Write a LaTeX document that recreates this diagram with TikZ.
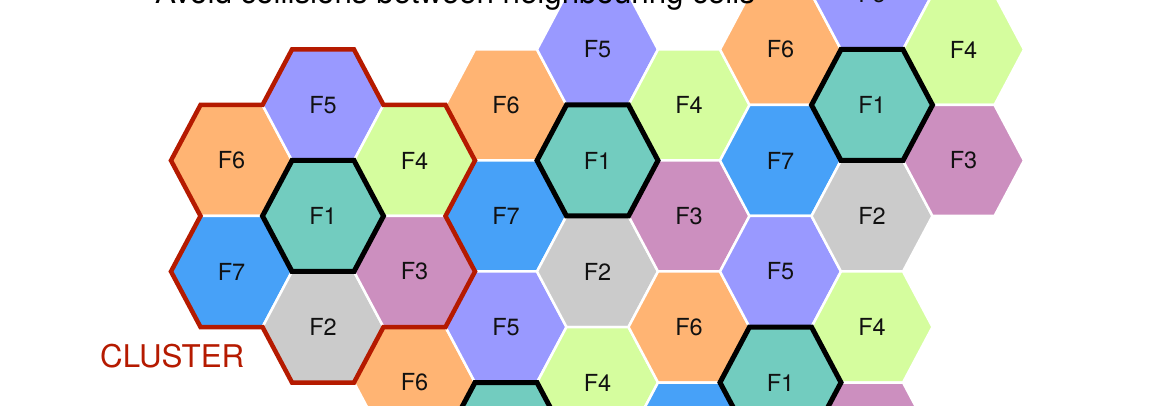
\documentclass[tikz,border=0pt]{standalone}
\usepackage{fontspec}
\setmainfont{TeX Gyre Heros}
\usepackage{tikz}
\definecolor{ink}{HTML}{111111}
\definecolor{clred}{HTML}{B51A00}
\definecolor{f1}{HTML}{72CCBF}
\definecolor{f2}{HTML}{CBCBCB}
\definecolor{f3}{HTML}{CC8FBF}
\definecolor{f4}{HTML}{D5FD9E}
\definecolor{f5}{HTML}{9999FF}
\definecolor{f6}{HTML}{FFB473}
\definecolor{f7}{HTML}{47A1F8}
\tikzset{
  cell/.style={draw=white, line width=2.5pt, line join=miter},
  lbl/.style={font=\fontsize{23.5}{28}\selectfont, text=ink, inner sep=0pt},
  seed/.style={draw=black, line width=5pt, line join=miter},
  clus/.style={draw=clred, line width=4.5pt, line join=miter},
  ttl/.style={font=\fontsize{31.3}{37}\selectfont, text=black, inner sep=0pt},
}
\newcommand{\hexpath}[1]{(#1) +(-60.5,0) -- +(-31,-55.5) -- +(31,-55.5) -- +(60.5,0) -- +(31,55.5) -- +(-31,55.5) -- cycle}

\begin{document}
\begin{tikzpicture}[x=1pt, y=-1pt]
    \clip (0,0) rectangle (1152,406);
    % cells: column / half-row / frequency
    \foreach \c/\r/\f in {0/3/6, 0/5/7,
        1/2/5, 1/4/1, 1/6/2,
        2/3/4, 2/5/3, 2/7/6,
        3/2/6, 3/4/7, 3/6/5, 3/8/1,
        4/1/5, 4/3/1, 4/5/2, 4/7/4,
        5/2/4, 5/4/3, 5/6/6, 5/8/7,
        6/1/6, 6/3/7, 6/5/5, 6/7/1,
        7/0/5, 7/2/1, 7/4/2, 7/6/4, 7/8/3,
        8/1/4, 8/3/3} {
      \coordinate (p\c\r) at ({231.5+91.5*\c},{216+55.5*(\r-4)});
      \filldraw[cell, fill=f\f] \hexpath{p\c\r};
      \node[lbl] (n\c\r) at (p\c\r) {F\f};
    }
    \foreach \p in {p14,p43,p72,p67,p38} \draw[seed] \hexpath{\p};
    % cluster outline
    \draw[clus] (p14) ++(-31,-166.5) -- ++(62,0) -- ++(29.5,55.5) -- ++(62,0)
      -- ++(29.5,55.5) -- ++(-29.5,55.5) -- ++(29.5,55.5) -- ++(-29.5,55.5)
      -- ++(-62,0) -- ++(-29.5,55.5) -- ++(-62,0) -- ++(-29.5,-55.5)
      -- ++(-62,0) -- ++(-29.5,-55.5) -- ++(29.5,-55.5) -- ++(-29.5,-55.5)
      -- ++(29.5,-55.5) -- ++(62,0) -- cycle;
    \node[ttl, anchor=base west, text=clred] (cl) at (100,367) {CLUSTER};
    \node[ttl, anchor=base] (title) at (455,4) {Avoid collisions between neighbouring cells};
  \end{tikzpicture}
\end{document}
